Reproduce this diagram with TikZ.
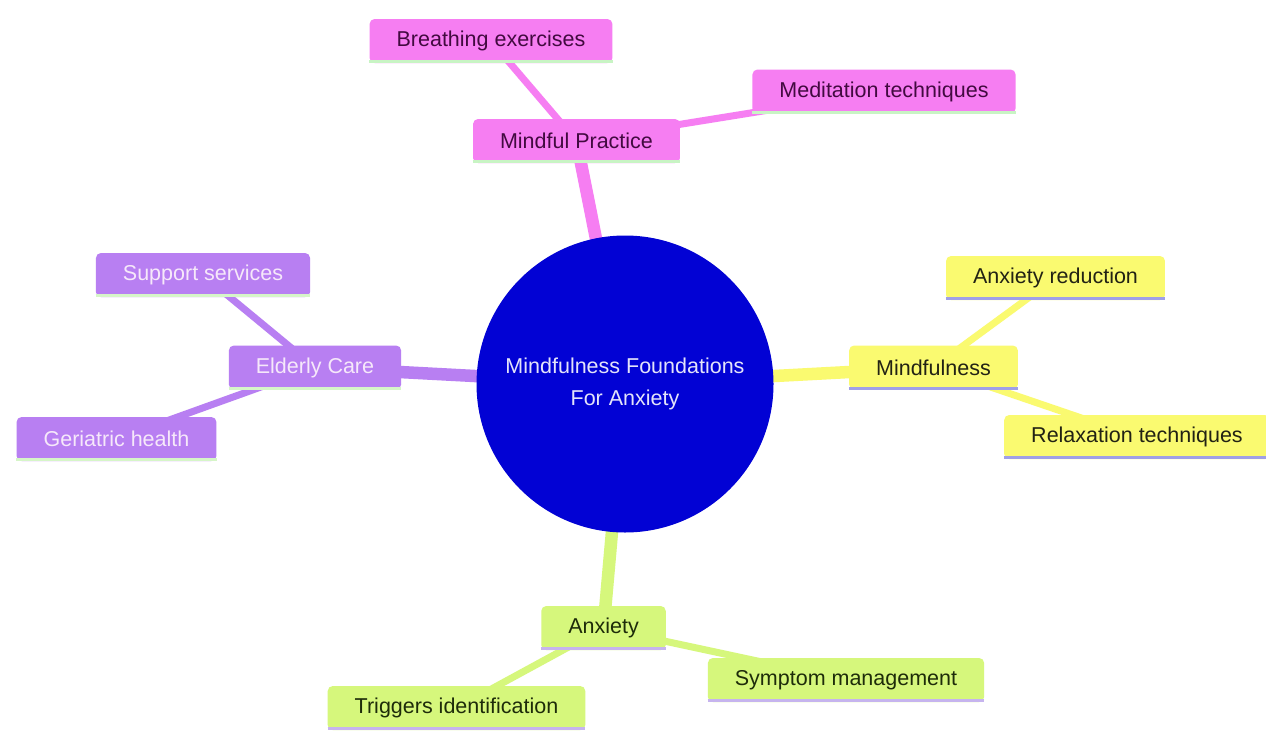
\documentclass[tikz,border=0pt]{standalone}
\usepackage{fontspec}
\setmainfont{Liberation Sans}
\definecolor{pinkF}{RGB}{246,126,242}
\definecolor{pinkT}{RGB}{66,10,64}
\definecolor{pinkL}{RGB}{200,244,196}
\definecolor{purpF}{RGB}{184,127,242}
\definecolor{purpT}{RGB}{246,232,250}
\definecolor{purpL}{RGB}{214,245,200}
\definecolor{yelF}{RGB}{250,250,112}
\definecolor{yelT}{RGB}{34,34,20}
\definecolor{yelL}{RGB}{160,160,230}
\definecolor{grnF}{RGB}{214,247,124}
\definecolor{grnT}{RGB}{30,44,10}
\definecolor{grnL}{RGB}{198,180,238}
\definecolor{centF}{RGB}{2,2,212}
\definecolor{centT}{RGB}{228,228,250}
\tikzset{
  mmbox/.style={rectangle, rounded corners=5pt, minimum height=44pt, inner xsep=27pt, inner ysep=0pt,
    font=\fontsize{21.5}{26}\selectfont},
  pinkbox/.style={mmbox, fill=pinkF, text=pinkT},
  purpbox/.style={mmbox, fill=purpF, text=purpT},
  yelbox/.style={mmbox, fill=yelF, text=yelT},
  grnbox/.style={mmbox, fill=grnF, text=grnT},
  main edge/.style={line width=12.5pt},
  sub edge/.style={line width=7pt},
  base line/.style={line width=3pt},
}
\pgfdeclarelayer{edges}
\pgfsetlayers{edges,main}
\begin{document}
\begin{tikzpicture}[x=1pt,y=-1pt]
\useasboundingbox (0,0) rectangle (1266,731);

\node[circle, fill=centF, minimum size=297pt, inner sep=0pt, text=centT, align=center,
  font=\fontsize{21.5}{32}\selectfont] (root) at (625,384)
  {\raisebox{-2.5pt}{Mindfulness Foundations}\\\raisebox{-2.5pt}{For Anxiety}};

\node[pinkbox] (mp) at (576.5,141) {Mindful Practice};
\node[pinkbox] (bre) at (491,41) {Breathing exercises};
\node[pinkbox] (med) at (884,91.5) {Meditation techniques};

\node[purpbox] (ec) at (315,367.5) {Elderly Care};
\node[purpbox] (sup) at (203,275) {Support services};
\node[purpbox] (ger) at (116.5,439) {Geriatric health};

\node[yelbox] (mf) at (933.5,367.5) {Mindfulness};
\node[yelbox] (ar) at (1055.5,278) {Anxiety reduction};
\node[yelbox] (rt) at (1137,437) {Relaxation techniques};

\node[grnbox] (anx) at (603.5,628) {Anxiety};
\node[grnbox] (sym) at (846,680) {Symptom management};
\node[grnbox] (tri) at (456.5,708) {Triggers identification};

\foreach \n/\c in {mp/pinkL,bre/pinkL,med/pinkL,ec/purpL,sup/purpL,ger/purpL,
                   mf/yelL,ar/yelL,rt/yelL,anx/grnL,sym/grnL,tri/grnL}{
  \draw[base line, draw=\c] ([yshift=1.5pt]\n.south west) -- ([yshift=1.5pt]\n.south east);
}

\begin{pgfonlayer}{edges}
\fill[white] (0,0) rectangle (1266,731);
\draw[main edge, pinkF] (root.center) -- (mp.center);
\draw[main edge, purpF] (root.center) -- (ec.center);
\draw[main edge, yelF] (root.center) -- (mf.center);
\draw[main edge, grnF] (root.center) -- (anx.center);
\draw[sub edge, pinkF] (mp.center) -- (bre.center);
\draw[sub edge, pinkF] (mp.center) -- (med.center);
\draw[sub edge, purpF] (ec.center) -- (sup.center);
\draw[sub edge, purpF] (ec.center) -- (ger.center);
\draw[sub edge, yelF] (mf.center) -- (ar.center);
\draw[sub edge, yelF] (mf.center) -- (rt.center);
\draw[sub edge, grnF] (anx.center) -- (sym.center);
\draw[sub edge, grnF] (anx.center) -- (tri.center);
\end{pgfonlayer}
\end{tikzpicture}
\end{document}
